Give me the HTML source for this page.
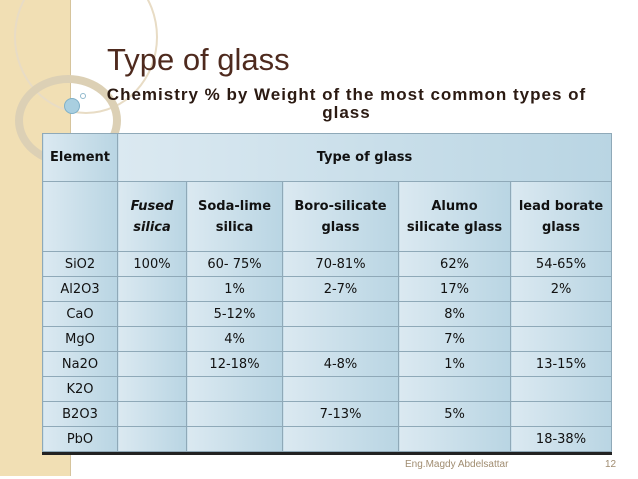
<!DOCTYPE html>
<html><head><meta charset="utf-8"><style>
html,body{margin:0;padding:0}
body{width:638px;height:479px;background:#fff;position:relative;overflow:hidden;font-family:"Liberation Sans",sans-serif}
.strip{position:absolute;left:0;top:0;width:70px;height:476px;background:#f1dfb4;border-right:1px solid #d6c49c}
.t{position:absolute;left:107px;top:42px;font-size:31px;color:#4e2a1e}
.s{position:absolute;left:105px;top:86px;width:483px;text-align:center;font-size:17px;letter-spacing:1px;font-weight:bold;color:#2b1a12;line-height:18px;white-space:nowrap}
table{position:absolute;left:42px;top:133px;border-collapse:collapse;font-family:"DejaVu Sans",sans-serif;font-size:13px;color:#111;box-shadow:0 3px 0 #222}
td{border:1px solid #8fa9b8;text-align:center;padding:0;background:linear-gradient(90deg,#dbe9f1,#b9d5e3);}
tr.h td{font-weight:bold;height:47px}
tr.h2 td{font-weight:bold;height:69px;line-height:21px}
tr.r td{height:24px}
.circ{position:absolute;border-radius:50%}
</style></head><body>
<div class="strip"></div>
<div class="circ" style="left:14px;top:-40px;width:140px;height:150px;border:2px solid #e8dcc5"></div>
<div class="circ" style="left:15px;top:75px;width:90px;height:75px;border:8px solid #dcd0b5"></div>
<div class="circ" style="left:64px;top:98px;width:14px;height:14px;background:#a9cfe0;border:1px solid #7fb0c8"></div>
<div class="circ" style="left:80px;top:93px;width:4px;height:4px;border:1px solid #8fb8cc"></div>
<div class="t">Type of glass</div>
<div class="s">Chemistry % by Weight of the most common types of<br>glass</div>
<table>
<colgroup><col style="width:75px"><col style="width:69px"><col style="width:96px"><col style="width:116px"><col style="width:112px"><col style="width:101px"></colgroup>
<tr class="h"><td>Element</td><td colspan="5">Type of glass</td></tr>
<tr class="h2"><td></td><td><i>Fused<br>silica</i></td><td>Soda-lime<br>silica</td><td>Boro-silicate<br>glass</td><td>Alumo<br>silicate glass</td><td>lead borate<br>glass</td></tr>
<tr class="r"><td>SiO2</td><td>100%</td><td>60- 75%</td><td>70-81%</td><td>62%</td><td>54-65%</td></tr>
<tr class="r"><td>Al2O3</td><td></td><td>1%</td><td>2-7%</td><td>17%</td><td>2%</td></tr>
<tr class="r"><td>CaO</td><td></td><td>5-12%</td><td></td><td>8%</td><td></td></tr>
<tr class="r"><td>MgO</td><td></td><td>4%</td><td></td><td>7%</td><td></td></tr>
<tr class="r"><td>Na2O</td><td></td><td>12-18%</td><td>4-8%</td><td>1%</td><td>13-15%</td></tr>
<tr class="r"><td>K2O</td><td></td><td></td><td></td><td></td><td></td></tr>
<tr class="r"><td>B2O3</td><td></td><td></td><td>7-13%</td><td>5%</td><td></td></tr>
<tr class="r"><td>PbO</td><td></td><td></td><td></td><td></td><td>18-38%</td></tr>
</table>
<div style="position:absolute;left:405px;top:459px;font-size:10px;color:#a08c70">Eng.Magdy Abdelsattar</div>
<div style="position:absolute;left:605px;top:459px;font-size:10px;color:#a08c70">12</div>
</body></html>
